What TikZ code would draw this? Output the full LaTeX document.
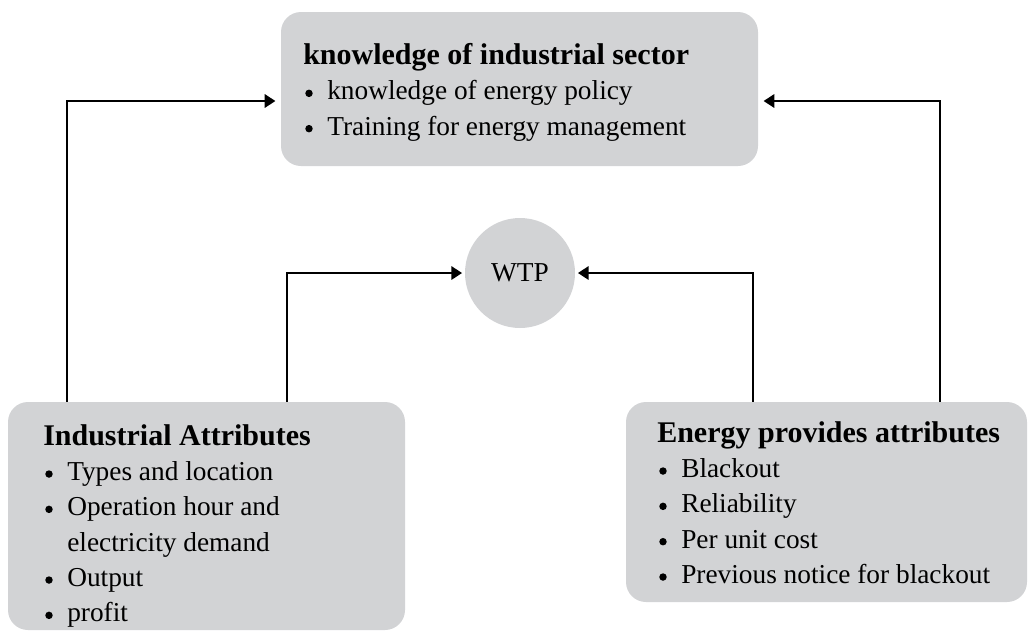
\documentclass[tikz,border=0pt]{standalone}
\usepackage{fontspec}
\setmainfont{Liberation Serif}
\usetikzlibrary{arrows.meta,calc}
\definecolor{boxgray}{RGB}{210,211,213}
\newcommand\bul{\makebox[18pt][l]{\hspace{1.5pt}\raisebox{2pt}{\tikz\fill[black] (0,0) circle[radius=2.8pt];}}}
\newcommand\cont{\hspace*{18pt}}
\newcommand\ttl[1]{{\fontsize{22.5pt}{26.5pt}\selectfont\bfseries #1}}
\tikzset{
  boxbg/.style={fill=boxgray, rounded corners=15pt, inner sep=0pt},
  txt/.style={align=left, inner sep=0pt, anchor=north west,
    font=\fontsize{20.5pt}{26.5pt}\selectfont},
  arr/.style={line width=1.5pt, -{Triangle[length=8pt,width=10pt]}},
}
\begin{document}
\begin{tikzpicture}[x=0.75pt,y=-0.75pt]
\useasboundingbox (0,0) rectangle (1028,637);
\node[boxbg, minimum width=357.75pt, minimum height=115.5pt] (top) at (519.5,89) {};
\node[boxbg, minimum width=297.75pt, minimum height=171pt] (lbox) at (206.5,516) {};
\node[boxbg, minimum width=300.75pt, minimum height=150pt] (rbox) at (826.5,502) {};
\node[circle, fill=boxgray, minimum size=82.5pt, inner sep=0pt,
  font=\fontsize{20.5pt}{24pt}\selectfont] (wtp) at (520,273) {WTP};
\node[txt] (ttext) at (303,43)
 {\ttl{knowledge of industrial sector}\\
  \bul knowledge of energy policy\\
  \bul Training for energy management};
\node[txt] (ltext) at (43,424)
 {\ttl{Industrial Attributes}\\
  \bul Types and location\\
  \bul Operation hour and\\
  \cont electricity demand\\
  \bul Output\\
  \bul profit};
\node[txt] (rtext) at (657,421)
 {\ttl{Energy provides attributes}\\
  \bul Blackout\\
  \bul Reliability\\
  \bul Per unit cost\\
  \bul Previous notice for blackout};
\draw[arr, shorten >=4pt] ($(lbox.north west)+(59,0)$) |- ($(top.west)+(0,12)$);
\draw[arr, shorten >=4pt] ($(rbox.north west)+(314,0)$) |- ($(top.east)+(0,12)$);
\draw[arr, shorten >=2pt] ($(lbox.north west)+(279,0)$) |- (wtp.west);
\draw[arr, shorten >=2pt] ($(rbox.north west)+(127,0)$) |- (wtp.east);
\end{tikzpicture}
\end{document}
